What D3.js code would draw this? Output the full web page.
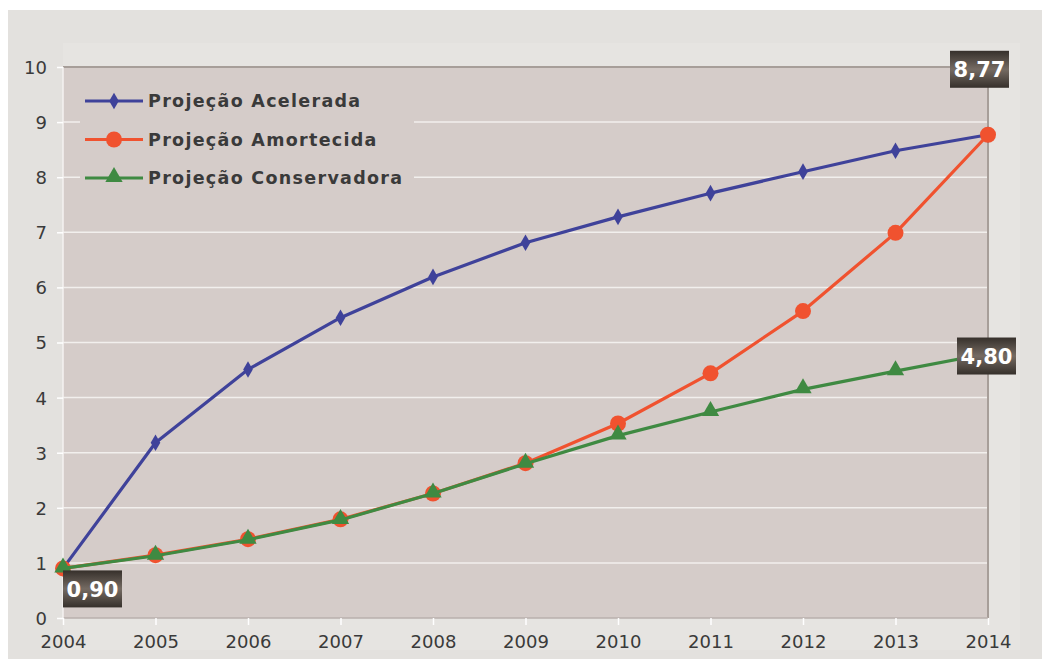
<!DOCTYPE html>
<html>
<head>
<meta charset="utf-8">
<script src="https://cdn.jsdelivr.net/npm/d3@7"></script>
<style>
  body { margin: 0; background: #fff; }
  svg { display: block; }
</style>
</head>
<body>
<svg id="chart" width="1042" height="659"></svg>
<script>
// dados
const years = [2004, 2005, 2006, 2007, 2008, 2009, 2010, 2011, 2012, 2013, 2014];
const acelerada    = [0.90, 3.18, 4.51, 5.45, 6.19, 6.81, 7.28, 7.71, 8.10, 8.48, 8.77];
const amortecida   = [0.90, 1.14, 1.43, 1.79, 2.26, 2.81, 3.53, 4.44, 5.57, 6.99, 8.77];
const conservadora = [0.90, 1.13, 1.42, 1.78, 2.26, 2.80, 3.31, 3.74, 4.15, 4.48, 4.80];
const yTicks = [0, 1, 2, 3, 4, 5, 6, 7, 8, 9, 10];
const seriesNames = ['Projeção Acelerada', 'Projeção Amortecida', 'Projeção Conservadora'];
const callouts = [
  { text: '0,90', year: 2004, value: 0.90 },
  { text: '8,77', year: 2014, value: 8.77 },
  { text: '4,80', year: 2014, value: 4.80 }
];

const svg = d3.select('#chart');
const W = 1042, H = 659;
const m = { left: 63, right: 54, top: 67, bottom: 41 };

const x = d3.scaleLinear().domain([2004, 2014]).range([m.left, W - m.right]);
const y = d3.scaleLinear().domain([0, 10]).range([H - m.bottom, m.top]);

// fundo
svg.append('rect').attr('x', 8).attr('y', 10).attr('width', W - 8).attr('height', H - 10).attr('fill', '#e3e1de');
svg.append('rect').attr('x', 63).attr('y', 43).attr('width', 957).attr('height', 607).attr('fill', '#e6e4e1');

// área de plotagem
svg.append('rect')
  .attr('x', x(2004)).attr('y', y(10))
  .attr('width', x(2014) - x(2004)).attr('height', y(0) - y(10))
  .attr('fill', '#d5ccc9');

// grade
svg.append('g').selectAll('line').data(yTicks.filter(d => d > 0 && d < 10)).enter()
  .append('line')
  .attr('x1', x(2004)).attr('x2', x(2014))
  .attr('y1', d => y(d)).attr('y2', d => y(d))
  .attr('stroke', '#f2efed').attr('stroke-width', 1.5);

// bordas
svg.append('line').attr('x1', x(2004)).attr('x2', x(2014) + 1).attr('y1', y(10)).attr('y2', y(10))
  .attr('stroke', '#a79e99').attr('stroke-width', 2);
svg.append('line').attr('x1', x(2014)).attr('x2', x(2014)).attr('y1', y(10)).attr('y2', y(0))
  .attr('stroke', '#a79e99').attr('stroke-width', 2);
svg.append('line').attr('x1', x(2004)).attr('x2', x(2014)).attr('y1', y(0)).attr('y2', y(0))
  .attr('stroke', '#b9b1ad').attr('stroke-width', 1.5);
svg.append('line').attr('x1', x(2004)).attr('x2', x(2004)).attr('y1', y(10)).attr('y2', y(0))
  .attr('stroke', '#f4f2f0').attr('stroke-width', 1.5);

// eixos
const xAxis = d3.axisBottom(x).tickValues(years).tickFormat(d3.format('d')).tickSize(7).tickPadding(10);
const gx = svg.append('g').attr('transform', `translate(0,${y(0)})`).call(xAxis);
const yAxis = d3.axisLeft(y).tickValues(yTicks).tickSize(6).tickPadding(10);
const gy = svg.append('g').attr('transform', `translate(${x(2004)},0)`).call(yAxis);
[gx, gy].forEach(g => {
  g.select('.domain').remove();
  g.selectAll('.tick line').attr('stroke', '#ffffff').attr('stroke-width', 1.5);
  g.selectAll('.tick text')
    .attr('fill', '#3a3a3a')
    .style('font-family', 'DejaVu Sans, sans-serif')
    .style('font-size', '18px');
});
gy.selectAll('.tick text').attr('dy', '0.36em');

// legenda (fundo cobre a grade)
svg.append('rect').attr('x', 80).attr('y', 80).attr('width', 334).attr('height', 115).attr('fill', '#d5ccc9');

const colors = ['#3f429a', '#f0522f', '#3f8a42'];
const allSeries = [acelerada, amortecida, conservadora];

const line = d3.line().x((d, i) => x(years[i])).y(d => y(d));

const diamond = d3.symbol().type(d3.symbolDiamond).size(80);
const triangle = d3.symbol().type(d3.symbolTriangle).size(130);

function marker(g, idx, cx, cy) {
  if (idx === 0) {
    g.append('path').attr('d', diamond()).attr('transform', `translate(${cx},${cy})`).attr('fill', colors[0]);
  } else if (idx === 1) {
    g.append('circle').attr('cx', cx).attr('cy', cy).attr('r', 8).attr('fill', colors[1]);
  } else {
    g.append('path').attr('d', triangle()).attr('transform', `translate(${cx},${cy - 1})`).attr('fill', colors[2]);
  }
}

// linhas: acelerada, amortecida, conservadora por cima
[0, 1, 2].forEach(idx => {
  const g = svg.append('g');
  g.append('path').datum(allSeries[idx])
    .attr('d', line).attr('fill', 'none')
    .attr('stroke', colors[idx]).attr('stroke-width', 3.2)
    .attr('stroke-linejoin', 'round');
  allSeries[idx].forEach((v, i) => marker(g, idx, x(years[i]), y(v)));
});

// itens da legenda
seriesNames.forEach((name, i) => {
  const ly = 101 + i * 38.5;
  const g = svg.append('g');
  g.append('line').attr('x1', 85).attr('x2', 143).attr('y1', ly).attr('y2', ly)
    .attr('stroke', colors[i]).attr('stroke-width', 3.2);
  marker(g, i, 114, ly);
  g.append('text').attr('x', 148).attr('y', ly).attr('dy', '0.36em')
    .attr('fill', '#3a3a3a')
    .style('font-family', 'DejaVu Sans, sans-serif')
    .style('font-weight', 'bold')
    .style('font-size', '17.5px')
    .style('letter-spacing', '1.3px')
    .text(name);
});

// rótulos de valor
const defs = svg.append('defs');
const grad = defs.append('linearGradient').attr('id', 'lbl').attr('x1', 0).attr('x2', 0).attr('y1', 0).attr('y2', 1);
grad.append('stop').attr('offset', '0%').attr('stop-color', '#36302b');
grad.append('stop').attr('offset', '50%').attr('stop-color', '#756b63');
grad.append('stop').attr('offset', '100%').attr('stop-color', '#36302b');

const boxOffsets = [[0, 2], [-38, -84], [-31, -16]];
callouts.forEach((c, i) => {
  const bx = x(c.year) + boxOffsets[i][0];
  const by = y(c.value) + boxOffsets[i][1];
  svg.append('rect').attr('x', bx).attr('y', by).attr('width', 59).attr('height', 37).attr('fill', 'url(#lbl)');
  svg.append('text').attr('x', bx + 29.5).attr('y', by + 19).attr('dy', '0.36em')
    .attr('text-anchor', 'middle').attr('fill', '#ffffff')
    .style('font-family', 'DejaVu Sans, sans-serif')
    .style('font-weight', 'bold').style('font-size', '21px')
    .text(c.text);
});
</script>
</body>
</html>
